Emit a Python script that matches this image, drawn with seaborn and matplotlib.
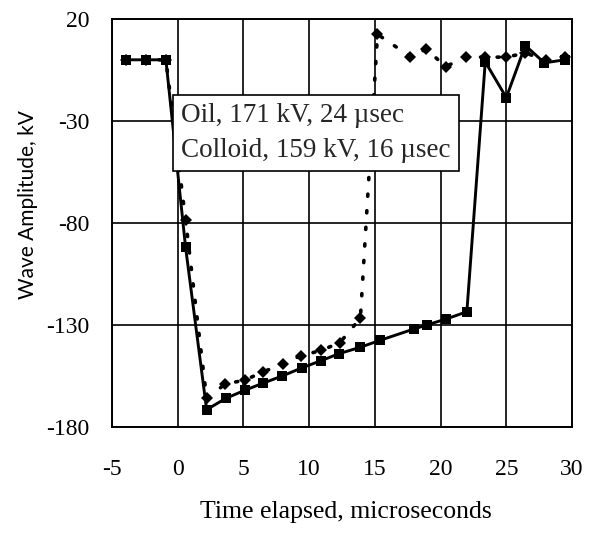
import matplotlib
matplotlib.use("Agg")
import matplotlib.pyplot as plt
import seaborn as sns
import pandas as pd

# ---- data ----
oil_t = [-3.95, -2.45, -0.9, 0.6, 2.2, 3.6, 5.1, 6.5, 8.0, 9.4, 10.9, 12.35, 13.9,
         15.2, 17.7, 18.9, 20.4, 21.9, 23.4, 25.0, 26.45, 28.0, 29.45]
oil_v = [0, 0, 0, -78.5, -166, -159, -157, -153, -149, -145, -142.5, -138.6, -126.6,
         12.5, 1.6, 5.2, -3.3, 1.3, 1.3, 1.3, 3.3, 0, 1.3]

colloid_t = [-3.95, -2.45, -0.9, 0.6, 2.2, 3.65, 5.1, 6.5, 7.95, 9.45, 10.9, 12.3, 13.85,
             15.4, 17.95, 18.95, 20.45, 22.0, 23.4, 25.0, 26.45, 27.9, 29.45]
colloid_v = [0, 0, 0, -92, -171.5, -166, -162, -158.5, -155, -151, -147.5, -144, -141,
             -137.5, -132, -130, -127, -123.5, -1, -18.5, 7, -1.5, 0]

oil_label = "Oil, 171 kV, 24 \u00b5sec"
colloid_label = "Colloid, 159 kV, 16 \u00b5sec"

x_ticks = [-5, 0, 5, 10, 15, 20, 25, 30]
y_ticks = [20, -30, -80, -130, -180]
x_label = "Time elapsed, microseconds"
y_label = "Wave Amplitude, kV"

sns.set_theme(style="white")
plt.rcParams["font.family"] = ["Liberation Serif", "DejaVu Serif"]

fig = plt.figure(figsize=(5.9, 5.34), dpi=100)
ax = fig.add_axes([112 / 590, 1 - 427 / 534, 460 / 590, 408 / 534])

df_oil = pd.DataFrame({"t": oil_t, "v": oil_v})
df_col = pd.DataFrame({"t": colloid_t, "v": colloid_v})

sns.lineplot(data=df_oil, x="t", y="v", ax=ax, color="black", marker="D",
             markersize=6.5, markeredgewidth=0, linewidth=2.6,
             linestyle=(0, (0.6, 4.0)), dash_capstyle="round",
             estimator=None, sort=False, label=oil_label, zorder=3)
sns.lineplot(data=df_col, x="t", y="v", ax=ax, color="black", marker="s",
             markersize=7, markeredgewidth=0, linewidth=2.1,
             estimator=None, sort=False, label=colloid_label, zorder=4)

ax.set_xlim(-5, 30)
ax.set_ylim(-180, 20)
ax.set_xticks(x_ticks)
ax.set_yticks(y_ticks)
ax.set_xticklabels([str(v) for v in x_ticks])
ax.set_yticklabels([str(v) for v in y_ticks])
ax.grid(True, color="black", linewidth=1.2)
ax.set_axisbelow(True)
for s in ax.spines.values():
    s.set_color("black")
    s.set_linewidth(1.4)
ax.tick_params(axis="both", length=0, labelsize=17, colors="black")
ax.tick_params(axis="y", pad=16)
ax.tick_params(axis="x", pad=23)

ax.set_xlabel(x_label, fontsize=18.5, color="black")
ax.set_ylabel(y_label, fontsize=15, color="black", family=["Lato", "DejaVu Sans"])
ax.xaxis.set_label_coords(0.509, -0.182)
ax.yaxis.set_label_coords(-0.16, 0.545)

leg = ax.legend(loc="upper left", bbox_to_anchor=((173 - 112) / 460, (427 - 95) / 408),
                borderaxespad=0, handlelength=0, handletextpad=0, borderpad=0.3,
                labelspacing=0.35, fontsize=19.5, fancybox=False, framealpha=1,
                edgecolor="black")
leg.get_frame().set_linewidth(1.2)
for h in leg.legend_handles:
    h.set_visible(False)

fig.savefig("out.png", dpi=100)
